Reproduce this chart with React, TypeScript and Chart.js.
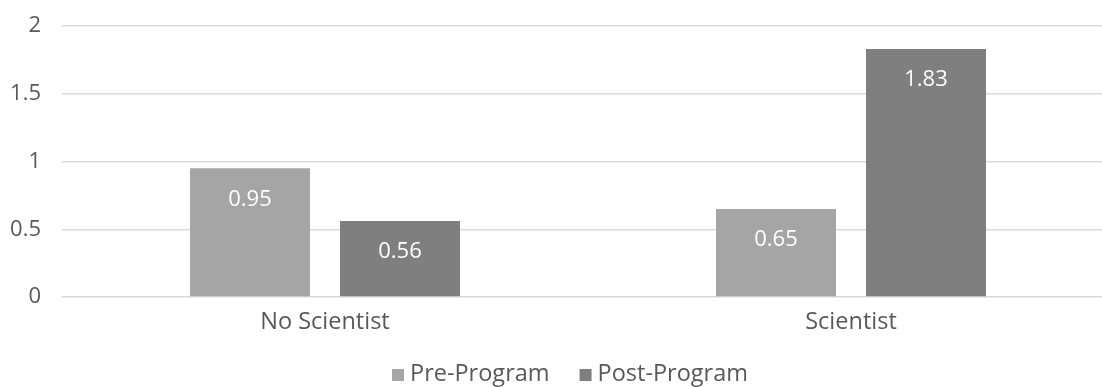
import React, { useEffect, useRef } from "react";
import { Chart, registerables } from "chart.js";

Chart.register(...registerables);

// Chart data
const categories = ["No Scientist", "Scientist"];
const seriesLabels = ["Pre-Program", "Post-Program"];
const preProgram = [0.95, 0.65];
const postProgram = [0.56, 1.83];
const seriesColors = ["#A5A5A5", "#7F7F7F"];
const yMin = 0;
const yMax = 2;
const yStep = 0.5;

const TEXT_COLOR = "#595959";
const FONT_FAMILY = '"Open Sans", "Noto Sans", sans-serif';

// White value labels inside the top of every bar
const valueLabels = {
  id: "valueLabels",
  afterDatasetsDraw(chart: any) {
    const { ctx } = chart;
    ctx.save();
    ctx.font = `22px ${FONT_FAMILY}`;
    ctx.fillStyle = "#FFFFFF";
    ctx.textAlign = "center";
    ctx.textBaseline = "middle";
    chart.data.datasets.forEach((ds: any, di: number) => {
      const meta = chart.getDatasetMeta(di);
      meta.data.forEach((bar: any, i: number) => {
        const v = ds.data[i] as number;
        ctx.fillText(v.toFixed(2), bar.x, bar.y + 31);
      });
    });
    ctx.restore();
  },
};

// Legend row beneath the category labels: square swatch + series name
const bottomLegend = {
  id: "bottomLegend",
  afterDraw(chart: any) {
    const { ctx, chartArea } = chart;
    ctx.save();
    ctx.font = `23.5px ${FONT_FAMILY}`;
    const box = 12;
    const gap = 6;
    const spacing = 30;
    const items = chart.data.datasets.map((ds: any) => ({
      label: ds.label as string,
      color: ds.backgroundColor as string,
      w: ctx.measureText(ds.label).width,
    }));
    const total =
      items.reduce((s: number, it: any) => s + box + gap + it.w, 0) +
      spacing * (items.length - 1);
    let x = (chartArea.left + chartArea.right) / 2 - 18 - total / 2;
    const baseline = chartArea.bottom + 84;
    ctx.textBaseline = "alphabetic";
    ctx.textAlign = "left";
    items.forEach((it: any) => {
      ctx.fillStyle = it.color;
      ctx.fillRect(x, baseline - box, box, box);
      ctx.fillStyle = TEXT_COLOR;
      ctx.fillText(it.label, x + box + gap, baseline);
      x += box + gap + it.w + spacing;
    });
    ctx.restore();
  },
};

export default function App() {
  const canvasRef = useRef<HTMLCanvasElement | null>(null);

  useEffect(() => {
    if (!canvasRef.current) return;
    const chart = new Chart(canvasRef.current, {
      type: "bar",
      data: {
        labels: categories,
        datasets: [
          {
            label: seriesLabels[0],
            data: preProgram,
            backgroundColor: seriesColors[0],
            categoryPercentage: 0.5703,
            barPercentage: 0.8,
          },
          {
            label: seriesLabels[1],
            data: postProgram,
            backgroundColor: seriesColors[1],
            categoryPercentage: 0.5703,
            barPercentage: 0.8,
          },
        ],
      },
      options: {
        responsive: false,
        animation: false,
        devicePixelRatio: 1,
        layout: { padding: { left: 0, right: 6, top: 26, bottom: 0 } },
        plugins: {
          legend: { display: false },
          tooltip: { enabled: false },
        },
        scales: {
          x: {
            grid: { display: false },
            border: { display: false },
            ticks: {
              color: TEXT_COLOR,
              font: { family: FONT_FAMILY, size: 23.5 },
              padding: 3,
              maxRotation: 0,
            },
            afterFit(scale: any) {
              scale.height = 90;
            },
          },
          y: {
            min: yMin,
            max: yMax,
            grid: {
              color: "#D9D9D9",
              lineWidth: 1.5,
              drawTicks: true,
              tickLength: 21,
              tickColor: "rgba(0,0,0,0)",
            },
            border: { display: false },
            ticks: {
              stepSize: yStep,
              color: TEXT_COLOR,
              font: { family: FONT_FAMILY, size: 22 },
              padding: 0,
              callback: (value: any) => `${value}`,
            },
            afterFit(scale: any) {
              scale.width = 62;
            },
          },
        },
      },
      plugins: [valueLabels, bottomLegend],
    });
    return () => chart.destroy();
  }, []);

  return (
    <div
      style={{
        position: "fixed",
        left: 0,
        top: 0,
        width: 1102,
        height: 387,
        overflow: "hidden",
        background: "#FFFFFF",
      }}
    >
      <canvas
        ref={canvasRef}
        width={1120}
        height={387}
        style={{ display: "block", width: 1120, height: 387 }}
      />
    </div>
  );
}
